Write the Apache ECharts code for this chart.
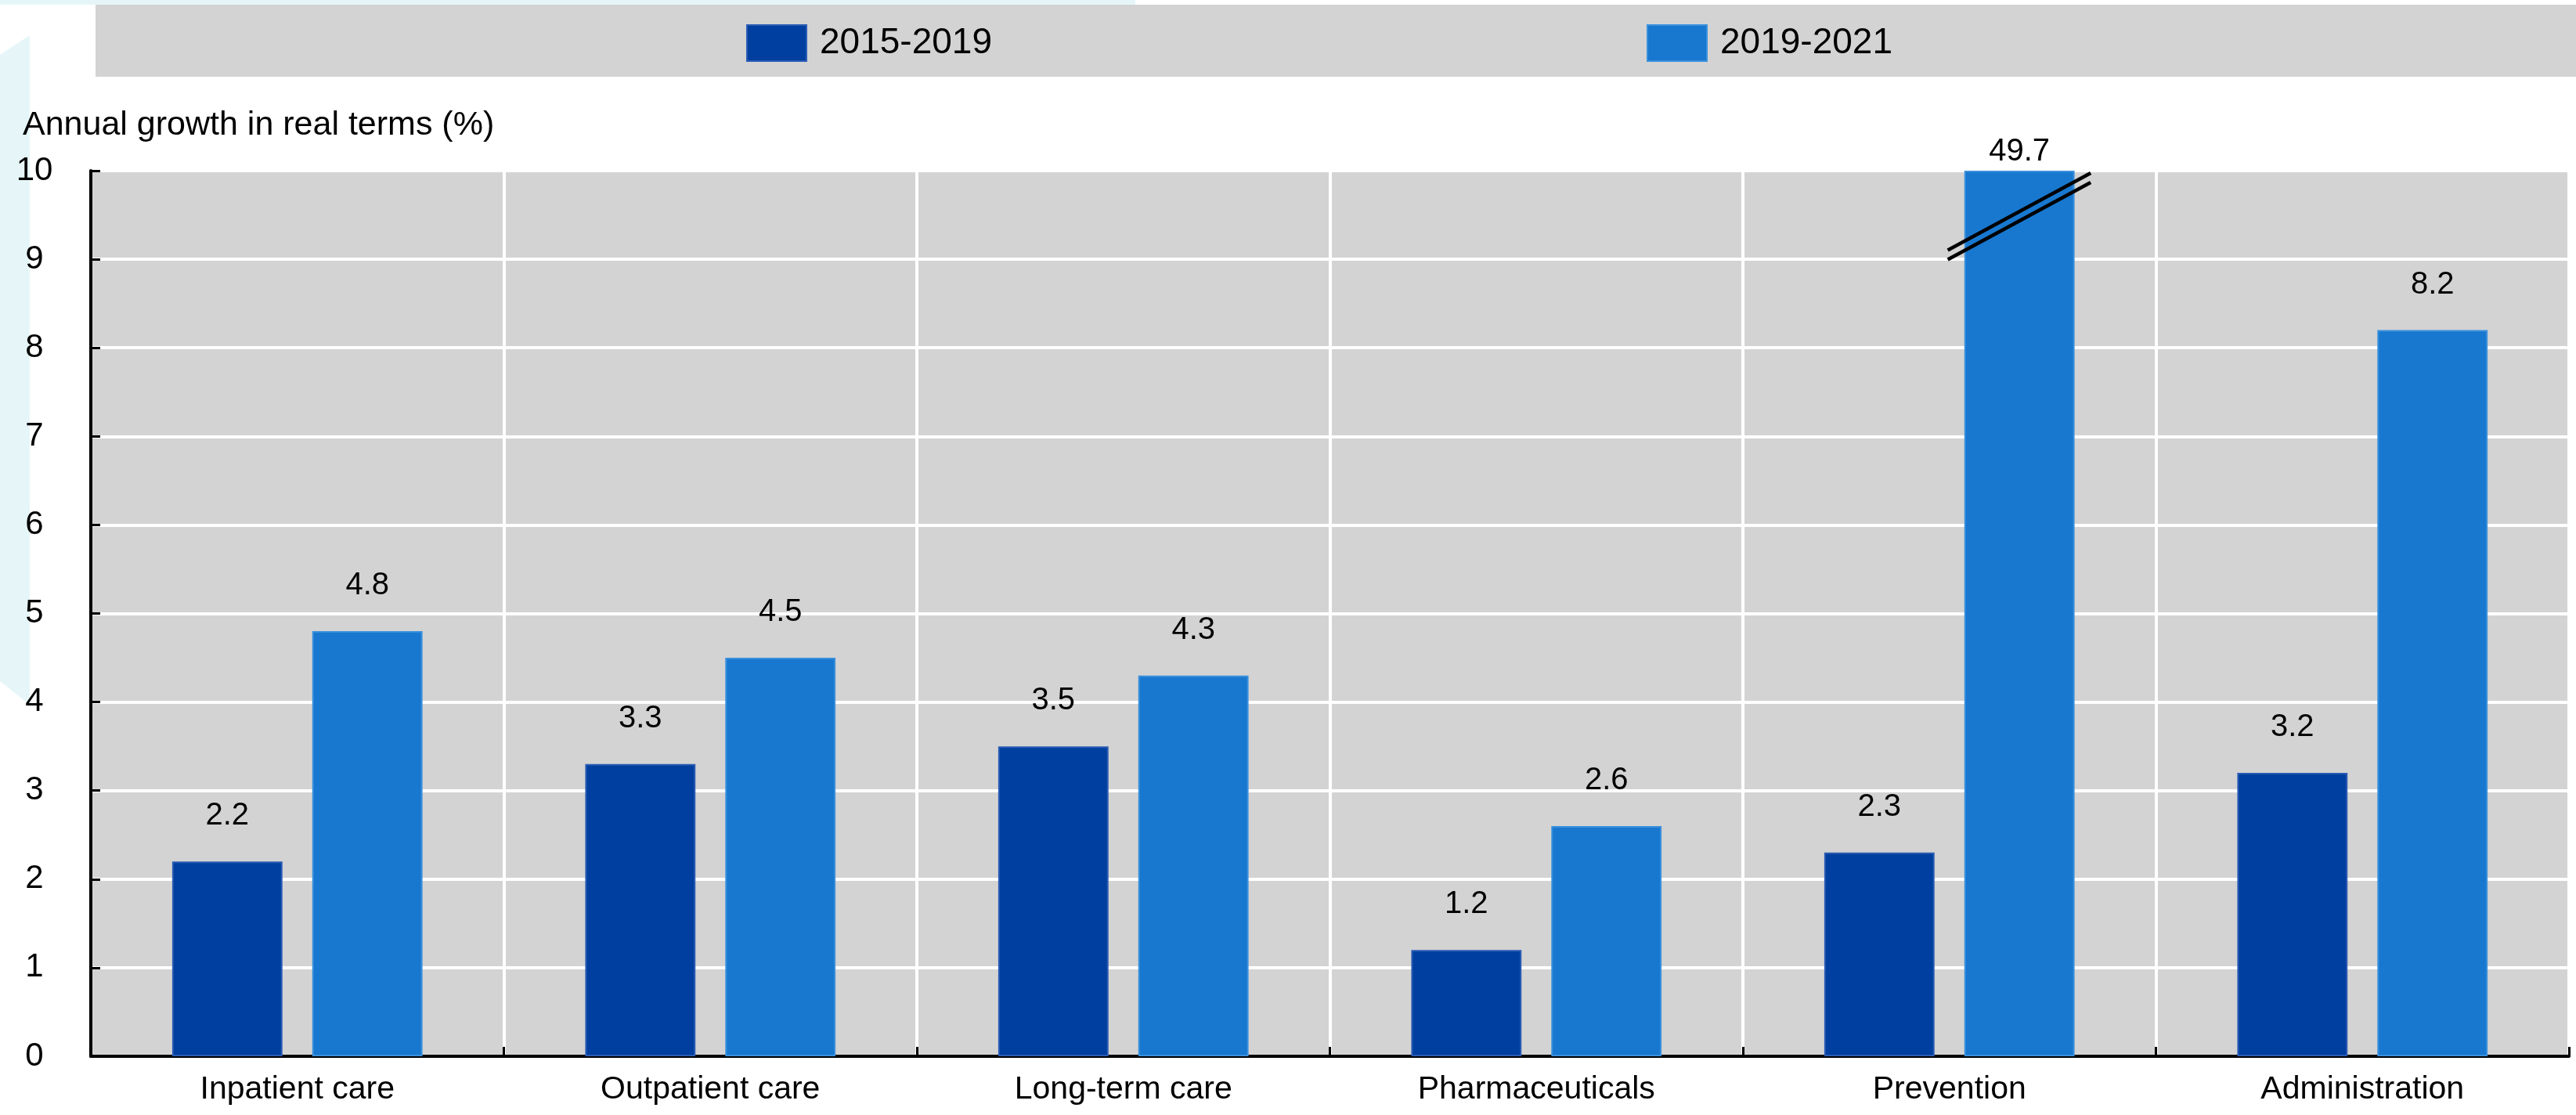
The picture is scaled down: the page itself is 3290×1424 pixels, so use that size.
<!DOCTYPE html>
<html>
<head>
<meta charset="utf-8">
<script src="https://cdn.jsdelivr.net/npm/echarts@6/dist/echarts.min.js"></script>
<style>
  html, body { margin: 0; padding: 0; background: #fff; }
  #chart { width: 3290px; height: 1424px; }
</style>
</head>
<body>
<div id="chart"></div>
<script>
const categories = ['Inpatient care', 'Outpatient care', 'Long-term care', 'Pharmaceuticals', 'Prevention', 'Administration']
const growth2015to2019 = [2.2, 3.3, 3.5, 1.2, 2.3, 3.2]
const growth2019to2021 = [4.8, 4.5, 4.3, 2.6, 49.7, 8.2]
const seriesNames = ['2015-2019', '2019-2021']
const yMin = 0
const yMax = 10
const yInterval = 1

const FONT = "'Liberation Sans Narrow', 'Arial Narrow', 'Liberation Sans', Arial, sans-serif"
const darkBlue = '#003f9f'
const lightBlue = '#1878cf'

// bars above the axis max are cut at the max, the label keeps the real value
const toBarData = (values) =>
  values.map((v) => ({
    value: Math.min(v, yMax),
    realValue: v,
    label: v > yMax ? { distance: 4 } : undefined,
  }))

// where a break marker is needed: [category index, low y, high y]
const breaks = growth2019to2021
  .map((v, i) => (v > yMax ? [i, yMax - 0.95, yMax - 0.08] : null))
  .filter(Boolean)

const barLabel = {
  show: true,
  position: 'top',
  distance: 38,
  fontFamily: FONT,
  fontSize: 40,
  color: '#000',
  formatter: (p) => p.data.realValue.toFixed(1),
}

const legendText = { fontFamily: FONT, fontSize: 46, color: '#000', padding: [0, 0, 0, 12] }

const chart = echarts.init(document.getElementById('chart'))

chart.setOption({
  backgroundColor: '#ffffff',
  animation: false,
  title: {
    text: 'Annual growth in real terms (%)',
    left: 24,
    top: 134,
    textStyle: { fontFamily: FONT, fontSize: 43, fontWeight: 'normal', color: '#000' },
  },
  graphic: [
    // faint page decoration on the left
    { type: 'polygon', silent: true, z: -10, shape: { points: [[0, 70], [38, 45], [38, 900], [0, 870]] }, style: { fill: '#e6f6f8' } },
    { type: 'rect', silent: true, z: -10, shape: { x: 0, y: 0, width: 1450, height: 6 }, style: { fill: '#e6f6f8' } },
    // legend band
    { type: 'rect', silent: true, z: -5, shape: { x: 122, y: 6, width: 3168, height: 92 }, style: { fill: '#d3d3d3' } },
  ],
  legend: [
    {
      data: [seriesNames[0]],
      icon: 'rect',
      left: 948,
      top: 26,
      itemWidth: 76,
      itemHeight: 46,
      itemGap: 0,
      textStyle: legendText,
    },
    {
      data: [seriesNames[1]],
      icon: 'rect',
      left: 2098,
      top: 26,
      itemWidth: 76,
      itemHeight: 46,
      itemGap: 0,
      textStyle: legendText,
    },
  ],
  grid: {
    left: 116,
    right: 9,
    top: 218,
    bottom: 75,
    show: true,
    backgroundColor: '#d3d3d3',
    borderWidth: 0,
  },
  xAxis: {
    type: 'category',
    data: categories,
    axisLine: { lineStyle: { color: '#000', width: 4 } },
    axisTick: { show: true, inside: true, length: 12, lineStyle: { color: '#000', width: 3 } },
    splitLine: { show: true, lineStyle: { color: '#ffffff', width: 4 } },
    axisLabel: { margin: 22, fontFamily: FONT, fontSize: 41, color: '#000' },
  },
  yAxis: {
    type: 'value',
    min: yMin,
    max: yMax,
    interval: yInterval,
    axisLine: { show: true, lineStyle: { color: '#000', width: 4 } },
    axisTick: { show: true, inside: true, length: 12, lineStyle: { color: '#000', width: 3 } },
    splitLine: { show: true, lineStyle: { color: '#ffffff', width: 4 } },
    axisLabel: { margin: 72, align: 'center', fontFamily: FONT, fontSize: 42, color: '#000' },
  },
  series: [
    {
      name: seriesNames[0],
      type: 'bar',
      data: toBarData(growth2015to2019),
      barWidth: '26.7%',
      barGap: '27%',
      itemStyle: { color: darkBlue, borderColor: '#2a5cb4', borderWidth: 2 },
      label: barLabel,
    },
    {
      name: seriesNames[1],
      type: 'bar',
      data: toBarData(growth2019to2021),
      barWidth: '26.7%',
      barGap: '27%',
      itemStyle: { color: lightBlue, borderColor: '#3a90dc', borderWidth: 2 },
      label: barLabel,
    },
    {
      // the double slash that marks a cut bar
      type: 'custom',
      silent: true,
      z: 10,
      data: breaks,
      renderItem: (params, api) => {
        const idx = api.value(0)
        const pLow = api.coord([idx, api.value(1)])
        const pHigh = api.coord([idx, api.value(2)])
        const band = api.size([1, 0])[0]
        const x1 = pLow[0] - 0.004 * band
        const x2 = pLow[0] + 0.342 * band
        const off = 6
        const style = { stroke: '#000', lineWidth: 4.5 }
        return {
          type: 'group',
          children: [
            { type: 'line', shape: { x1: x1, y1: pLow[1] - off, x2: x2, y2: pHigh[1] - off }, style: style },
            { type: 'line', shape: { x1: x1, y1: pLow[1] + off, x2: x2, y2: pHigh[1] + off }, style: style },
          ],
        }
      },
    },
  ],
})
</script>
</body>
</html>
